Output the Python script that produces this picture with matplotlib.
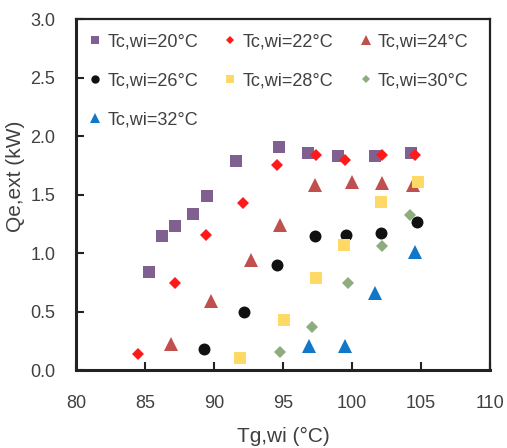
import matplotlib
matplotlib.use("Agg")
import matplotlib.pyplot as plt

plt.rcParams['font.family'] = ['Liberation Sans', 'DejaVu Sans']

# Tg,wi (°C) and Qe,ext (kW) for each Tc,wi series
tg_20 = [85.3, 86.2, 87.2, 88.5, 89.5, 91.6, 94.7, 96.8, 99.0, 101.7, 104.3]
qe_20 = [0.84, 1.15, 1.23, 1.34, 1.49, 1.79, 1.91, 1.86, 1.83, 1.83, 1.86]

tg_22 = [84.5, 87.2, 89.4, 92.1, 94.6, 97.4, 99.5, 102.2, 104.6]
qe_22 = [0.14, 0.75, 1.16, 1.43, 1.75, 1.84, 1.80, 1.84, 1.84]

tg_24 = [86.9, 89.8, 92.7, 94.8, 97.3, 100.0, 102.2, 104.4]
qe_24 = [0.23, 0.59, 0.94, 1.24, 1.58, 1.61, 1.60, 1.58]

tg_26 = [89.3, 92.2, 94.6, 97.3, 99.6, 102.1, 104.7]
qe_26 = [0.18, 0.50, 0.90, 1.15, 1.16, 1.17, 1.27]

tg_28 = [91.9, 95.1, 97.4, 99.4, 102.1, 104.8]
qe_28 = [0.11, 0.43, 0.79, 1.07, 1.44, 1.61]

tg_30 = [94.8, 97.1, 99.7, 102.2, 104.2]
qe_30 = [0.16, 0.37, 0.75, 1.06, 1.33]

tg_32 = [96.9, 99.5, 101.7, 104.6]
qe_32 = [0.21, 0.21, 0.66, 1.01]

series = [
    ('Tc,wi=20°C', tg_20, qe_20, 's', '#7f6091', 9.0),
    ('Tc,wi=22°C', tg_22, qe_22, 'D', '#ff1a1a', 6.3),
    ('Tc,wi=24°C', tg_24, qe_24, '^', '#c0504d', 9.4),
    ('Tc,wi=26°C', tg_26, qe_26, 'o', '#111111', 8.6),
    ('Tc,wi=28°C', tg_28, qe_28, 's', '#ffd966', 9.0),
    ('Tc,wi=30°C', tg_30, qe_30, 'D', '#8fac7e', 6.3),
    ('Tc,wi=32°C', tg_32, qe_32, '^', '#1177c8', 9.4),
]

fig = plt.figure(figsize=(5.07, 4.48), dpi=100)
ax = fig.add_axes([0.150, 0.1730, 0.816, 0.7845])

handles = []
for label, x, y, marker, color, ms in series:
    h, = ax.plot(x, y, linestyle='none', marker=marker, color=color,
                 markersize=ms, markeredgewidth=0, label=label)
    handles.append(h)

ax.set_xlim(80, 110)
ax.set_ylim(0, 3.0)
ax.set_xticks([80, 85, 90, 95, 100, 105, 110])
ax.set_yticks([0, 0.5, 1.0, 1.5, 2.0, 2.5, 3.0])
ax.set_yticklabels(['0.0', '0.5', '1.0', '1.5', '2.0', '2.5', '3.0'])

text_color = '#404040'
ax.tick_params(direction='in', length=6, width=1.5,
               labelsize=13, labelcolor=text_color, color='#222222')
ax.tick_params(axis='x', pad=18)
ax.tick_params(axis='y', pad=15)
for sp in ax.spines.values():
    sp.set_linewidth(1.6)
    sp.set_color('#222222')
ax.spines['left'].set_linewidth(2.2)
ax.spines['bottom'].set_linewidth(2.2)

ax.set_xlabel('Tg,wi (°C)', fontsize=15, color=text_color)
ax.set_ylabel('Qe,ext (kW)', fontsize=15, color=text_color)
ax.xaxis.set_label_coords(0.5, -0.16)
ax.yaxis.set_label_coords(-0.123, 0.553)

# row-wise legend order (matplotlib fills columns first)
order = [0, 3, 6, 1, 4, 2, 5]
ax.legend([handles[i] for i in order], [series[i][0] for i in order],
          loc='upper left', ncol=3, frameon=False, fontsize=13,
          markerscale=0.7, handlelength=0.6, handletextpad=0.37,
          columnspacing=1.5, labelspacing=1.22, labelcolor=text_color,
          bbox_to_anchor=(0.033, 0.959), borderaxespad=0, borderpad=0)

fig.savefig('out.png', dpi=100)
